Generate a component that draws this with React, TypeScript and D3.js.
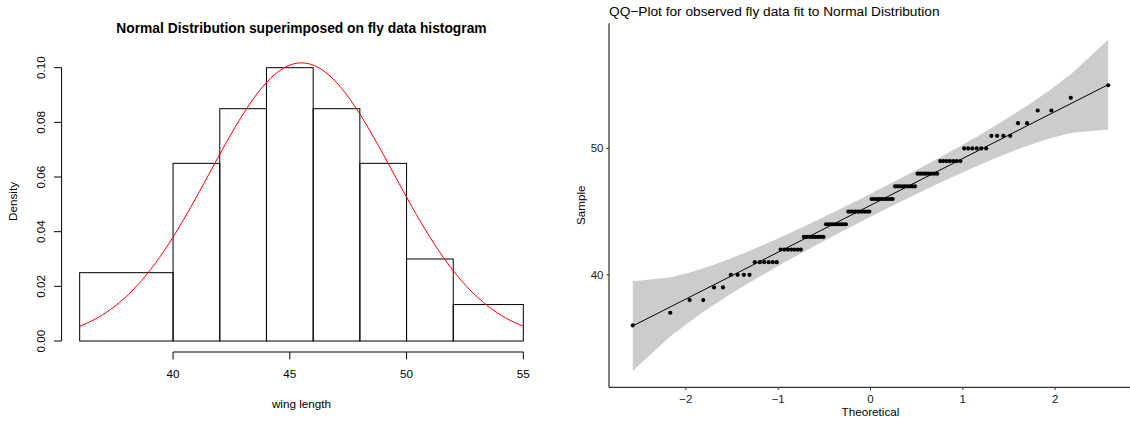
import React from "react";
import * as d3 from "d3";

// Housefly wing lengths (units of 0.1 mm): each distinct value and how often it occurs
const wingValues = [36, 37, 38, 39, 40, 41, 42, 43, 44, 45, 46, 47, 48, 49, 50, 51, 52, 53, 54, 55];
const wingCounts = [1, 1, 2, 2, 4, 6, 7, 8, 9, 10, 10, 9, 8, 7, 6, 4, 2, 2, 1, 1];

// Histogram break points (unequal widths at the tails)
const histBreaks = [36, 40, 42, 44, 46, 48, 50, 52, 55];

// Axis tick values
const histXTicks = [40, 45, 50, 55];
const histYTicks = [0, 0.02, 0.04, 0.06, 0.08, 0.1];
const qqXTicks = [-2, -1, 0, 1, 2];
const qqYTicks = [40, 50];

const FONT = "'Liberation Sans', Arial, Helvetica, sans-serif";

// expand the counted values into the sorted sample
const sample: number[] = wingValues.flatMap((v, i) => Array(wingCounts[i]).fill(v));
const n = sample.length;
const mean = d3.mean(sample)!;
const sd = d3.deviation(sample)!;

const dnorm = (x: number, m = 0, s = 1) =>
  Math.exp(-0.5 * ((x - m) / s) ** 2) / (s * Math.sqrt(2 * Math.PI));

// inverse standard normal CDF (Acklam's rational approximation)
function qnorm(p: number): number {
  const a = [-3.969683028665376e1, 2.209460984245205e2, -2.759285104469687e2, 1.38357751867269e2, -3.066479806614716e1, 2.506628277459239];
  const b = [-5.447609879822406e1, 1.615858368580409e2, -1.556989798598866e2, 6.680131188771972e1, -1.328068155288572e1];
  const c = [-7.784894002430293e-3, -3.223964580411365e-1, -2.400758277161838, -2.549732539343734, 4.374664141464968, 2.938163982698783];
  const d = [7.784695709041462e-3, 3.224671290700398e-1, 2.445134137142996, 3.754408661907416];
  const pl = 0.02425;
  if (p < pl) {
    const q = Math.sqrt(-2 * Math.log(p));
    return (((((c[0] * q + c[1]) * q + c[2]) * q + c[3]) * q + c[4]) * q + c[5]) /
      ((((d[0] * q + d[1]) * q + d[2]) * q + d[3]) * q + 1);
  }
  if (p <= 1 - pl) {
    const q = p - 0.5;
    const r = q * q;
    return ((((((a[0] * r + a[1]) * r + a[2]) * r + a[3]) * r + a[4]) * r + a[5]) * q) /
      (((((b[0] * r + b[1]) * r + b[2]) * r + b[3]) * r + b[4]) * r + 1);
  }
  const q = Math.sqrt(-2 * Math.log(1 - p));
  return -(((((c[0] * q + c[1]) * q + c[2]) * q + c[3]) * q + c[4]) * q + c[5]) /
    ((((d[0] * q + d[1]) * q + d[2]) * q + d[3]) * q + 1);
}

// ---- histogram bins: right-closed, lowest break included ----
const bins = histBreaks.slice(0, -1).map((x0, i) => {
  const x1 = histBreaks[i + 1];
  const count = sample.filter((v) => (i === 0 ? v >= x0 : v > x0) && v <= x1).length;
  return { x0, x1, density: count / (n * (x1 - x0)) };
});

// ---- QQ data ----
const probs = sample.map((_, i) => (i + 1 - 0.5) / n);
const theo = probs.map(qnorm);
const q1 = d3.quantileSorted(sample, 0.25)!;
const q3 = d3.quantileSorted(sample, 0.75)!;
const slope = (q3 - q1) / (qnorm(0.75) - qnorm(0.25));
const intercept = q1 - slope * qnorm(0.25);
const zz = qnorm(0.975);
const band = theo.map((z, i) => {
  const fit = intercept + slope * z;
  const se = (slope / dnorm(z)) * Math.sqrt((probs[i] * (1 - probs[i])) / n);
  return { z, lo: fit - zz * se, hi: fit + zz * se };
});

function Histogram() {
  const x = d3.scaleLinear().domain([36, 55]).range([79.67, 523.3]);
  const y = d3.scaleLinear().domain([0, 0.1]).range([341, 67.7]);
  const curvePts = d3.range(0, 101).map((k) => 36 + (k * 19) / 100);
  const line = d3
    .line<number>()
    .x((v) => x(v))
    .y((v) => y(dnorm(v, mean, sd)));
  const cx = (x(36) + x(55)) / 2;
  return (
    <g fontFamily={FONT}>
      <text x={cx} y={28} textAnchor="middle" dominantBaseline="central" fontWeight="bold" fontSize={13.8}>
        Normal Distribution superimposed on fly data histogram
      </text>
      {bins.map((b) => (
        <rect
          key={b.x0}
          x={x(b.x0)}
          y={y(b.density)}
          width={x(b.x1) - x(b.x0)}
          height={y(0) - y(b.density)}
          fill="none"
          stroke="#000"
          strokeWidth={1}
        />
      ))}
      <path d={line(curvePts)!} fill="none" stroke="#ff0000" strokeWidth={1} />
      {/* x axis */}
      <line x1={x(histXTicks[0])} x2={x(histXTicks[histXTicks.length - 1])} y1={352} y2={352} stroke="#000" />
      {histXTicks.map((t) => (
        <g key={t}>
          <line x1={x(t)} x2={x(t)} y1={352} y2={359.3} stroke="#000" />
          <text x={x(t)} y={373} textAnchor="middle" dominantBaseline="central" fontSize={11.7}>
            {t}
          </text>
        </g>
      ))}
      {/* y axis */}
      <line x1={61.6} x2={61.6} y1={y(0)} y2={y(0.1)} stroke="#000" />
      {histYTicks.map((t) => (
        <g key={t}>
          <line x1={54} x2={61.6} y1={y(t)} y2={y(t)} stroke="#000" />
          <text
            transform={`translate(40,${y(t)}) rotate(-90)`}
            textAnchor="middle"
            dominantBaseline="central"
            fontSize={11.7}
          >
            {t.toFixed(2)}
          </text>
        </g>
      ))}
      <text x={cx} y={403} textAnchor="middle" dominantBaseline="central" fontSize={11.7}>
        wing length
      </text>
      <text transform="translate(12,201.5) rotate(-90)" textAnchor="middle" dominantBaseline="central" fontSize={11.7}>
        Density
      </text>
    </g>
  );
}

function QQPlot() {
  const left = 609;
  const right = 1132;
  const top = 23.3;
  const bottom = 387.3;
  const [zMin, zMax] = d3.extent(theo) as [number, number];
  const zPad = (zMax - zMin) * 0.05;
  const yMin = Math.min(d3.min(band, (b) => b.lo)!, sample[0]);
  const yMax = Math.max(d3.max(band, (b) => b.hi)!, sample[n - 1]);
  const yPad = (yMax - yMin) * 0.05;
  const x = d3.scaleLinear().domain([zMin - zPad, zMax + zPad]).range([left, right]);
  const y = d3.scaleLinear().domain([yMin - yPad, yMax + yPad]).range([bottom, top]);
  const area = d3
    .area<(typeof band)[number]>()
    .x((b) => x(b.z))
    .y0((b) => y(b.lo))
    .y1((b) => y(b.hi));
  const cx = (left + right) / 2;
  return (
    <g fontFamily={FONT}>
      <text x={left} y={11} dominantBaseline="central" fontSize={13.7} fill="#000">
        QQ−Plot for observed fly data fit to Normal Distribution
      </text>
      <path d={area(band)!} fill="#cccccc" />
      <line
        x1={x(zMin)}
        x2={x(zMax)}
        y1={y(intercept + slope * zMin)}
        y2={y(intercept + slope * zMax)}
        stroke="#000"
        strokeWidth={1}
      />
      {sample.map((v, i) => (
        <circle key={i} cx={x(theo[i])} cy={y(v)} r={2.1} fill="#000" />
      ))}
      {/* axes */}
      <line x1={left} x2={left} y1={top} y2={bottom} stroke="#000" strokeWidth={1} />
      <line x1={left} x2={right} y1={bottom} y2={bottom} stroke="#000" strokeWidth={1} />
      {qqXTicks.map((t) => (
        <g key={t}>
          <line x1={x(t)} x2={x(t)} y1={bottom} y2={bottom + 2.7} stroke="#333" />
          <text x={x(t)} y={399} textAnchor="middle" dominantBaseline="central" fontSize={11.5} fill="#222">
            {t < 0 ? `−${-t}` : t}
          </text>
        </g>
      ))}
      {qqYTicks.map((t) => (
        <g key={t}>
          <line x1={left - 2.7} x2={left} y1={y(t)} y2={y(t)} stroke="#333" />
          <text x={603.5} y={y(t)} textAnchor="end" dominantBaseline="central" fontSize={11.5} fill="#222">
            {t}
          </text>
        </g>
      ))}
      <text x={cx} y={411} textAnchor="middle" dominantBaseline="central" fontSize={11.7}>
        Theoretical
      </text>
      <text
        transform={`translate(580.7,${(top + bottom) / 2}) rotate(-90)`}
        textAnchor="middle"
        dominantBaseline="central"
        fontSize={11.7}
      >
        Sample
      </text>
    </g>
  );
}

export default function App() {
  return (
    <div style={{ position: "absolute", left: 0, top: 0 }}>
      <svg width={1130} height={421} style={{ display: "block", background: "#fff" }}>
        <Histogram />
        <QQPlot />
      </svg>
    </div>
  );
}
